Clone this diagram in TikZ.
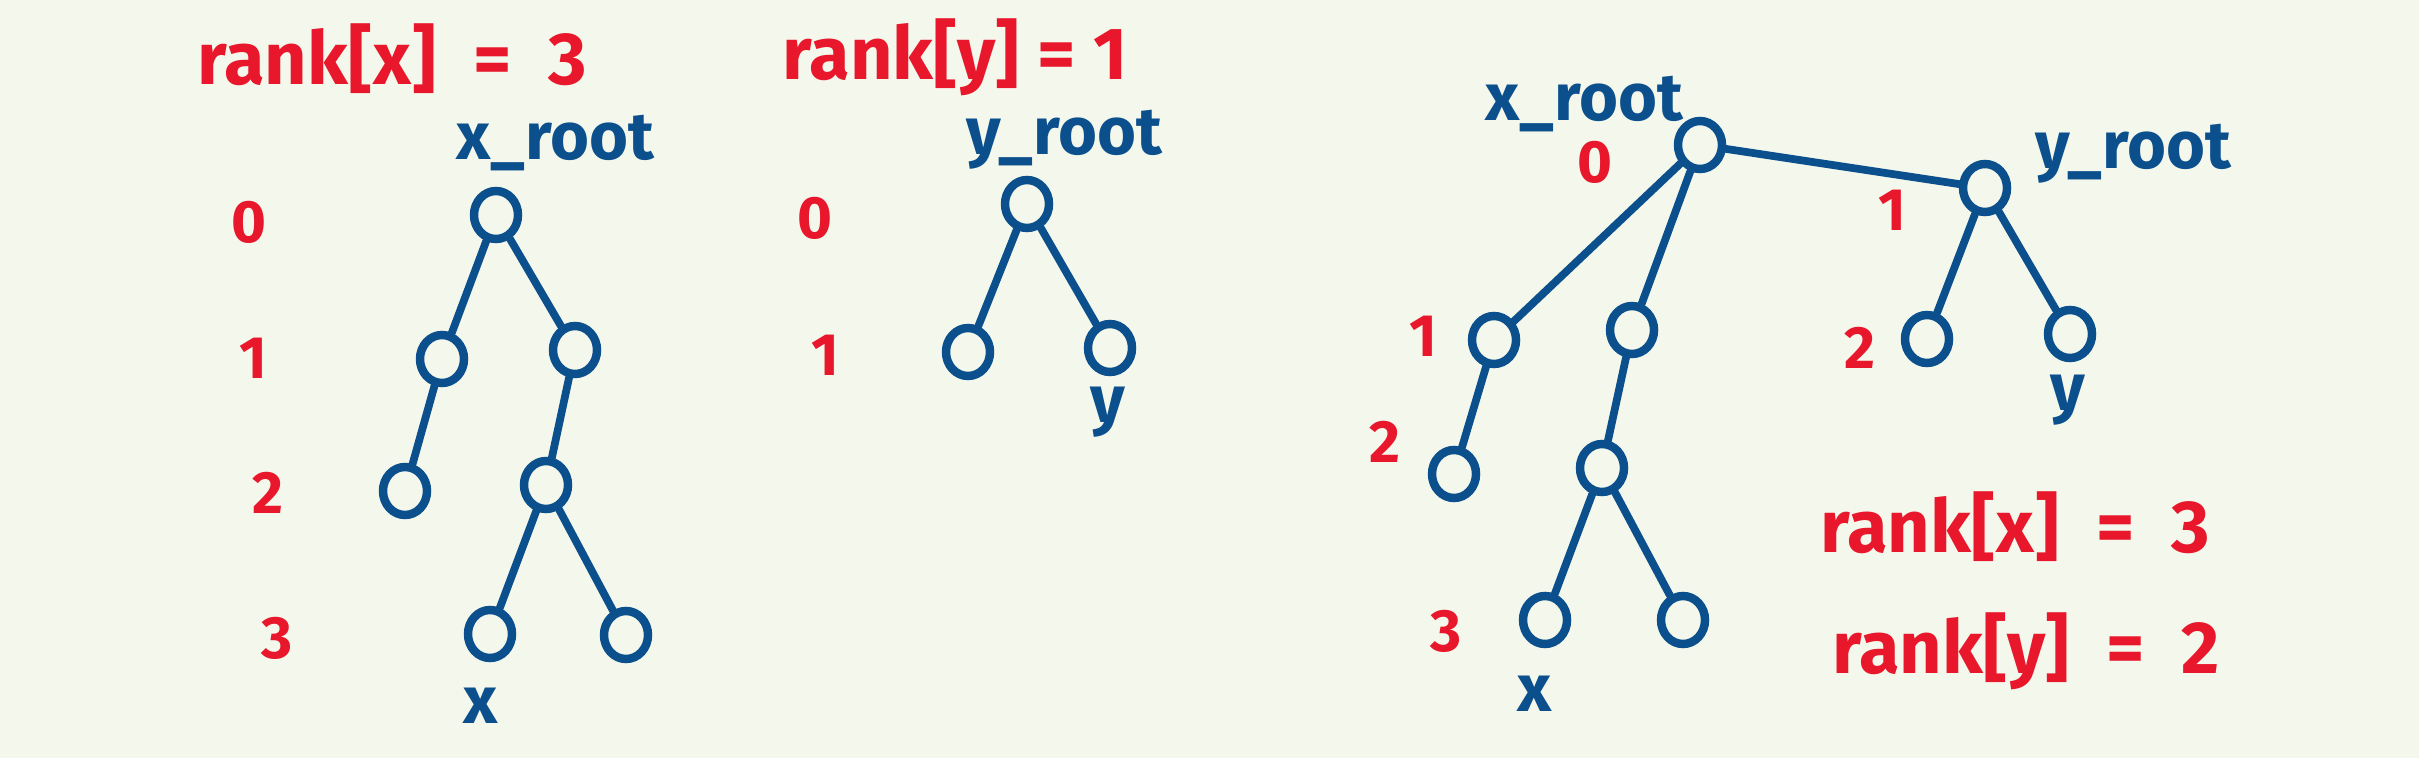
\documentclass[tikz,border=0pt]{standalone}
\usepackage{fontspec}
\setmainfont{Fira Sans}
\usetikzlibrary{shapes.geometric}
\definecolor{inkred}{HTML}{E8172B}
\definecolor{inkblue}{HTML}{0B4F8C}
\definecolor{paper}{HTML}{F4F8EC}

\begin{document}
\begin{tikzpicture}[x=0.01cm,y=-0.01cm,
    vertex/.style={draw=inkblue,line width=2.4pt,ellipse,minimum width=0.44cm,minimum height=0.48cm,inner sep=0pt},
    edge/.style={draw=inkblue,line width=2.2pt,line cap=round},
    level/.style={text=inkred,font=\bfseries\fontsize{17}{20}\selectfont},
    rank/.style={text=inkred,anchor=base,font=\bfseries\fontsize{21}{24}\selectfont},
    tag/.style={text=inkblue,anchor=base,font=\bfseries\fontsize{19}{24}\selectfont}]

  % Paper
  \fill[paper] (0,0) rectangle (2419,758);

  % Left tree (x)
  \node[rank] (rankxL) at (392,85) {rank[x]\enspace=\enspace3};
  \node[tag] (xrootL) at (555,160) {x\_root};
  \node[vertex] (a0) at (496,215) {};
  \node[vertex] (a1) at (442,359) {};
  \node[vertex] (a2) at (575,350) {};
  \node[vertex] (a3) at (405,491) {};
  \node[vertex] (a4) at (546,485) {};
  \node[vertex] (a5) at (490,634) {};
  \node[vertex] (a6) at (626,635) {};
  \node[tag] (xL) at (481,723) {x};
  \draw[edge] (a0) -- (a1);
  \draw[edge] (a0) -- (a2);
  \draw[edge] (a1) -- (a3);
  \draw[edge] (a2) -- (a4);
  \draw[edge] (a4) -- (a5);
  \draw[edge] (a4) -- (a6);
  \foreach \d/\x/\y in {0/249/222,1/253/358,2/268/493,3/277/638}
    \node[level] (lvA\d) at (\x,\y) {\d};

  % Middle tree (y)
  \node[rank] (rankyL) at (955,80) {rank[y] = 1};
  \node[tag] (yrootL) at (1064,155) {y\_root};
  \node[vertex] (b0) at (1027,204) {};
  \node[vertex] (b1) at (968,352) {};
  \node[vertex] (b2) at (1110,348) {};
  \node[tag,anchor=center] (yL) at (1108,412) {y};
  \draw[edge] (b0) -- (b1);
  \draw[edge] (b0) -- (b2);
  \foreach \d/\x/\y in {0/815/218,1/825/355}
    \node[level] (lvB\d) at (\x,\y) {\d};

  % Right tree (after union)
  \node[tag] (xrootR) at (1584,121) {x\_root};
  \node[tag] (yrootR) at (2133,169) {y\_root};
  \node[vertex] (c0) at (1700,145) {};
  \node[vertex] (c1) at (1494,340) {};
  \node[vertex] (c2) at (1632,330) {};
  \node[vertex] (c3) at (1454,474) {};
  \node[vertex] (c4) at (1602,468) {};
  \node[vertex] (c5) at (1545,620) {};
  \node[vertex] (c6) at (1683,620) {};
  \node[vertex] (d0) at (1985,188) {};
  \node[vertex] (d1) at (1927,339) {};
  \node[vertex] (d2) at (2070,334) {};
  \node[tag] (xR) at (1535,711) {x};
  \node[tag,anchor=center] (yR) at (2068,400) {y};
  \draw[edge] (c0) -- (d0);
  \draw[edge] (c0) -- (c1);
  \draw[edge] (c0) -- (c2);
  \draw[edge] (c1) -- (c3);
  \draw[edge] (c2) -- (c4);
  \draw[edge] (c4) -- (c5);
  \draw[edge] (c4) -- (c6);
  \draw[edge] (d0) -- (d1);
  \draw[edge] (d0) -- (d2);
  \foreach \n/\d/\x/\y in {r0/0/1595/162,r1/1/1892/210,l1/1/1423/336,l2/2/1385/442,l3/3/1446/631,y2/2/1860/348}
    \node[level] (lvC\n) at (\x,\y) {\d};
  \node[rank] (rankxR) at (2015,552) {rank[x]\enspace=\enspace3};
  \node[rank] (rankyR) at (2026,673) {rank[y]\enspace=\enspace2};
\end{tikzpicture}
\end{document}
